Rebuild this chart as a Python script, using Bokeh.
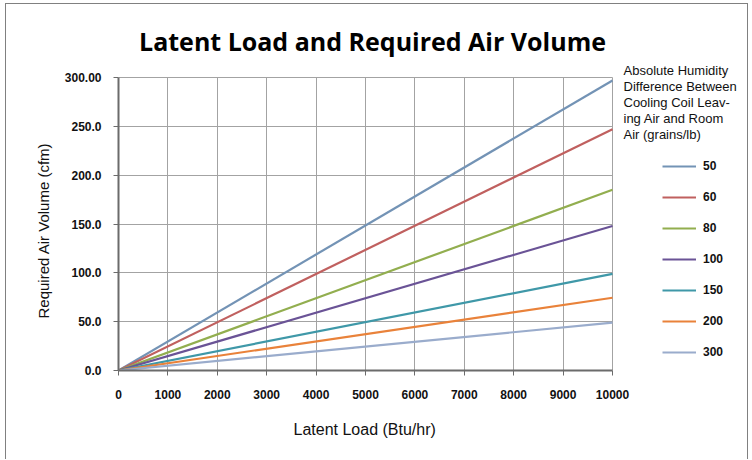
from bokeh.plotting import figure
from bokeh.models import Label, Legend, LegendItem, FixedTicker, Range1d, Title
from bokeh.embed import file_html
from bokeh.resources import INLINE

# ---- Data ----
loads = [0, 10000]
series_names = ["50", "60", "80", "100", "150", "200", "300"]
cfm_50 = [0, 297]
cfm_60 = [0, 247]
cfm_80 = [0, 185]
cfm_100 = [0, 148]
cfm_150 = [0, 99]
cfm_200 = [0, 74.5]
cfm_300 = [0, 49]
series_values = [cfm_50, cfm_60, cfm_80, cfm_100, cfm_150, cfm_200, cfm_300]
colors = ["#7393b5", "#c0605f", "#92ae4f", "#6a5396", "#3f98a8", "#e9823a", "#9aaccc"]
x_ticks = list(range(0, 10001, 1000))
y_ticks = [0, 50, 100, 150, 200, 250, 300]
y_tick_labels = ["0.0", "50.0", "100.0", "150.0", "200.0", "250.0", "300.00"]
x_max, y_max = 10000, 300

title_text = "Latent Load and Required Air Volume"
x_title = "Latent Load (Btu/hr)"
y_title = "Required Air Volume (cfm)"
legend_title = "Absolute Humidity\nDifference Between\nCooling Coil Leav-\ning Air and Room\nAir (grains/lb)"

# ---- Layout (pixels) ----
W, H = 743, 456
left, right, top, bottom = 112, 7, 6, 90
frame_w, frame_h = W - left - right, H - top - bottom
chart_w, chart_h = 494, 293          # pixel size of the data area 0..10000 x 0..300
x_end = x_max * frame_w / chart_w
y_end = y_max * frame_h / chart_h
px_x = x_max / chart_w               # data units per pixel
px_y = y_max / chart_h

p = figure(width=W, height=H, output_backend="svg", toolbar_location=None,
           x_range=Range1d(0, x_end), y_range=Range1d(0, y_end),
           min_border_left=left, min_border_right=right,
           min_border_top=top, min_border_bottom=bottom)
p.outline_line_color = None
p.border_fill_color = "white"
p.background_fill_color = "white"
p.styles = {"margin-left": "5px", "margin-top": "3px",
            "border-left": "1px solid #808080", "border-top": "1px solid #808080",
            "border-right": "1px solid #808080"}

renderers = []
for name, vals, c in zip(series_names, series_values, colors):
    r = p.line(loads, vals, line_color=c, line_width=2.2)
    renderers.append((name, r))

# grids limited to the data area
for g in (p.xgrid, p.ygrid):
    g.grid_line_color = "#a3a3a3"
    g.grid_line_width = 1
p.xgrid.ticker = FixedTicker(ticks=x_ticks)
p.ygrid.ticker = FixedTicker(ticks=y_ticks)
p.xgrid.cross_bounds = (0, y_max)
p.ygrid.cross_bounds = (0, x_max)
p.xgrid.bounds = (0, x_max)
p.ygrid.bounds = (0, y_max)

# axes
p.xaxis.ticker = FixedTicker(ticks=x_ticks)
p.yaxis.ticker = FixedTicker(ticks=y_ticks)
p.xaxis.bounds = (0, x_max)
p.yaxis.bounds = (0, y_max)
p.yaxis.major_label_overrides = {t: l for t, l in zip(y_ticks, y_tick_labels)}
for ax in (p.xaxis, p.yaxis):
    ax.axis_line_color = "#6b6b6b"
    ax.axis_line_width = 2
    ax.major_tick_line_color = "#6b6b6b"
    ax.major_tick_line_width = 1
    ax.major_tick_in = 0
    ax.major_tick_out = 5
    ax.minor_tick_line_color = None
    ax.major_label_text_font = "Liberation Sans"
    ax.major_label_text_font_size = "12px"
    ax.major_label_text_font_style = "bold"
    ax.major_label_text_color = "#111111"
p.xaxis.major_label_standoff = 14
p.yaxis.major_label_standoff = 12

# axis titles, placed along the data area (not the whole frame)
p.add_layout(Title(text=x_title, align="left", offset=175, standoff=36,
                   vertical_align="middle",
                   text_font="Liberation Sans", text_font_style="normal",
                   text_font_size="16px", text_color="#111111"), "below")
p.add_layout(Title(text=y_title, align="left", offset=52, standoff=17,
                   vertical_align="middle",
                   text_font="Liberation Sans", text_font_style="normal",
                   text_font_size="15px", text_color="#111111"), "left")

# chart title (inside the frame area above the chart)
p.add_layout(Label(x=x_max / 2 + 7 * px_x, y=y_max + 37 * px_y, text=title_text,
                   text_align="center", text_baseline="middle",
                   text_font="Open Sans", text_font_style="bold", text_font_size="25px",
                   text_color="#000000"))

# legend heading
p.add_layout(Label(x=x_max + 11 * px_x, y=y_max + 15 * px_y, text=legend_title,
                   text_align="left", text_baseline="top",
                   text_font="Liberation Sans", text_font_size="13px", text_color="#111111",
                   text_line_height=1.07))

legend = Legend(items=[LegendItem(label=n, renderers=[r]) for n, r in renderers],
                location=(544, 8), orientation="vertical",
                padding=0, margin=0, spacing=11, glyph_width=34, glyph_height=20,
                label_height=20, label_standoff=7,
                label_text_font="Liberation Sans", label_text_font_size="12px",
                label_text_font_style="bold", label_text_color="#111111",
                border_line_color=None, background_fill_alpha=0)
legend.item_background_fill_alpha = 0
p.add_layout(legend, "center")

open("out.html", "w").write(file_html(p, INLINE))
